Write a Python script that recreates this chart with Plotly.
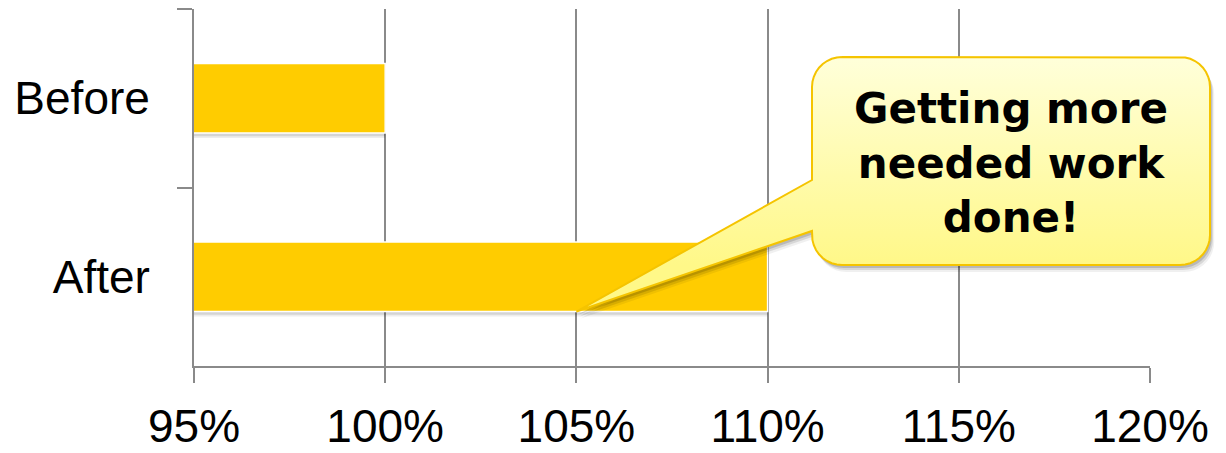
import numpy as np
import plotly.graph_objects as go

# ---- data ----
categories = ["Before", "After"]
values = [100, 110]
x_ticks = [95, 100, 105, 110, 115, 120]
x_tick_labels = ["95%", "100%", "105%", "110%", "115%", "120%"]
callout_text = "Getting more<br>needed work<br>done!"
callout_x = 105          # value the callout points at
callout_category = "After"

# ---- layout geometry (pixels) ----
W, H = 1226, 453
PX0, PX1 = 194, 1150     # plot area left/right
PY0, PY1 = 9, 366        # plot area top/bottom
XMIN, XMAX = 95, 120
bar_w = 0.39

def x_to_px(v):
    return PX0 + (v - XMIN) / (XMAX - XMIN) * (PX1 - PX0)

def cat_to_py(i, offset=0.0):
    # reversed category axis: range [-0.5, 1.5] top->bottom
    return PY0 + (i + 0.5 + offset) / 2.0 * (PY1 - PY0)

# tail tip: bottom edge of the referenced bar at callout_x
ci = categories.index(callout_category)
tip_x = x_to_px(callout_x)
tip_y = cat_to_py(ci, bar_w / 2)

# bubble box
BX0, BX1, BY0, BY1, R = 812, 1210, 57, 265, 30
TAIL_TOP, TAIL_BOT = 180, 231

def arc(cx, cy, a0, a1, n=10):
    t = np.linspace(np.radians(a0), np.radians(a1), n)
    return list(cx + R * np.cos(t)), list(cy + R * np.sin(t))

def bubble_path(dx=0, dy=0):
    xs, ys = [], []
    def add(px, py):
        xs.extend(px); ys.extend(py)
    add([BX0 + R, BX1 - R], [BY0, BY0])
    add(*arc(BX1 - R, BY0 + R, 270, 360))
    add([BX1, BX1], [BY0 + R, BY1 - R])
    add(*arc(BX1 - R, BY1 - R, 0, 90))
    add([BX1 - R, BX0 + R], [BY1, BY1])
    add(*arc(BX0 + R, BY1 - R, 90, 180))
    add([BX0, BX0, tip_x, BX0, BX0], [BY1 - R, TAIL_BOT, tip_y, TAIL_TOP, BY0 + R])
    add(*arc(BX0 + R, BY0 + R, 180, 270))
    xs.append(xs[0]); ys.append(ys[0])
    return [v + dx for v in xs], [v + dy for v in ys]

fig = go.Figure()

# soft bar shadows
for off, a in [(0.028, 0.07), (0.018, 0.10)]:
    fig.add_trace(go.Bar(
        y=categories, x=values, orientation="h",
        width=bar_w, offset=-bar_w / 2 + off,
        marker=dict(color=f"rgba(0,0,0,{a})", line=dict(width=0)),
        hoverinfo="skip", showlegend=False,
    ))

fig.add_trace(go.Bar(
    y=categories, x=values, orientation="h",
    width=bar_w, offset=-bar_w / 2,
    marker=dict(color="#FFCC00", line=dict(color="white", width=1.5)),
    hoverinfo="skip", showlegend=False,
))

# bubble shadow layers
for d, a in [(7, 0.06), (5, 0.10), (3, 0.14)]:
    sx, sy = bubble_path(d * 0.6, d)
    fig.add_trace(go.Scatter(
        x=sx, y=sy, xaxis="x2", yaxis="y2", mode="lines",
        line=dict(width=0), fill="toself", fillcolor=f"rgba(0,0,0,{a})",
        hoverinfo="skip", showlegend=False,
    ))

bx, by = bubble_path()
fig.add_trace(go.Scatter(
    x=bx, y=by, xaxis="x2", yaxis="y2", mode="lines",
    line=dict(color="#F5C400", width=2),
    fill="toself",
    fillgradient=dict(type="vertical",
                      colorscale=[[0, "#FFF888"], [1, "#FFFFDA"]],
                      start=BY1, stop=BY0),
    hoverinfo="skip", showlegend=False,
))

fig.add_annotation(
    x=(BX0 + BX1) / 2, y=(BY0 + BY1) / 2 + 2, xref="x2", yref="y2",
    text=callout_text, showarrow=False,
    font=dict(family="DejaVu Sans", size=42, color="black", weight="bold"),
    align="center", xanchor="center", yanchor="middle",
)

grid_col = "#8A8A8A"
fig.update_layout(
    width=W, height=H,
    margin=dict(l=0, r=0, t=0, b=0, pad=0, autoexpand=False),
    paper_bgcolor="white", plot_bgcolor="rgba(0,0,0,0)",
    barmode="overlay",
    xaxis=dict(
        domain=[PX0 / W, PX1 / W], automargin=False,
        range=[XMIN, XMAX], tickvals=x_ticks, ticktext=x_tick_labels,
        showgrid=True, gridcolor=grid_col, gridwidth=1.8,
        showline=True, linecolor=grid_col, linewidth=1.8,
        ticks="outside", ticklen=15, tickcolor=grid_col, tickwidth=1.8,
        tickfont=dict(family="Liberation Sans", size=46, color="black"),
        ticklabelstandoff=4, zeroline=False, fixedrange=True,
    ),
    yaxis=dict(
        domain=[(H - PY1) / H, (H - PY0) / H], automargin=False,
        categoryorder="array", categoryarray=categories,
        range=[1.5, -0.5], tickson="boundaries",
        showgrid=False, showline=True, linecolor=grid_col, linewidth=1.8,
        ticks="outside", ticklen=15, tickcolor=grid_col, tickwidth=1.8,
        tickfont=dict(family="Liberation Sans", size=46, color="black"),
        ticklabelstandoff=33, zeroline=False, fixedrange=True,
    ),
    xaxis2=dict(domain=[0, 1], range=[0, W], visible=False, fixedrange=True,
                anchor="y2", automargin=False),
    yaxis2=dict(domain=[0, 1], range=[H, 0], visible=False, fixedrange=True,
                anchor="x2", automargin=False),
)

fig.write_html("out.html", config={"displayModeBar": False},
               post_script="document.body.style.margin='0';document.body.style.overflow='hidden';")
